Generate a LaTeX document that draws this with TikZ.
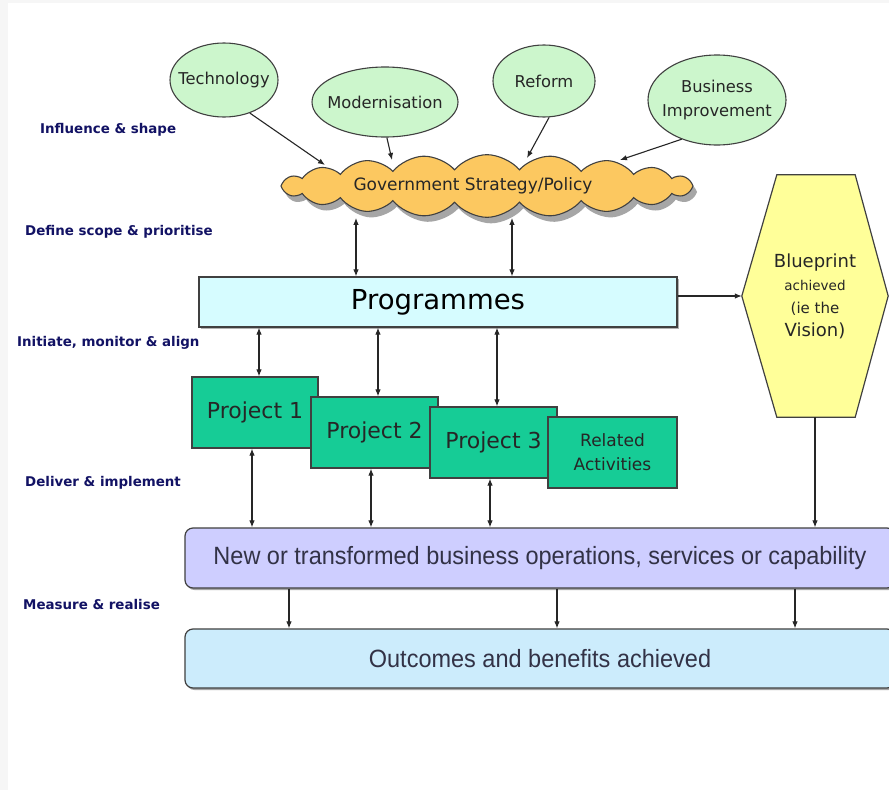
\documentclass[tikz,border=0pt]{standalone}
\usepackage{fontspec}
\setmainfont{DejaVu Sans}
\newfontfamily\arialfont[FakeStretch=0.94]{Liberation Sans}
\usetikzlibrary{shapes.geometric,shapes.symbols,arrows.meta,shadows,backgrounds,calc}

\definecolor{bubblegreen}{RGB}{204,246,204}
\definecolor{cloudorange}{RGB}{252,200,96}
\definecolor{progcyan}{RGB}{214,252,255}
\definecolor{visionyellow}{RGB}{255,255,153}
\definecolor{projteal}{RGB}{22,204,150}
\definecolor{opslilac}{RGB}{206,206,255}
\definecolor{outcomeblue}{RGB}{204,236,252}
\definecolor{stagenavy}{RGB}{18,18,100}
\definecolor{edgegray}{RGB}{64,64,64}
\definecolor{textdark}{RGB}{38,38,38}
\definecolor{opstext}{RGB}{50,50,70}

\begin{document}
\begin{tikzpicture}[x=1pt,y=-1pt,
  conn/.style={draw=black!85, line width=1.1pt, -{Latex[length=7pt,width=5.5pt]}},
  conn2/.style={draw=black!85, line width=1.1pt, {Latex[length=7pt,width=5.5pt]}-{Latex[length=7pt,width=5.5pt]}},
  stage/.style={anchor=west, inner sep=0pt, text=stagenavy,
    font=\bfseries\fontsize{13.4}{15}\selectfont},
  bubbletext/.style={inner sep=0pt, text=textdark, align=center,
    font=\fontsize{16.3}{24}\selectfont},
  bubble/.style={ellipse, draw=edgegray, line width=1.1pt, fill=bubblegreen,
    inner sep=0pt, label={[bubbletext]center:#1}},
  projbox/.style={draw=edgegray, line width=1.2pt, fill=projteal, inner sep=0pt,
    text=textdark, align=center},
  band/.style={draw=edgegray, line width=1.2pt, rounded corners=8pt,
    inner sep=0pt, text=opstext,
    font=\arialfont\fontsize{25}{28}\selectfont,
    drop shadow={shadow xshift=1.5pt, shadow yshift=-2pt, fill=gray!70, opacity=1}},
]
% page
\path[use as bounding box, clip] (0,0) rectangle (889,790);
\begin{scope}[on background layer]
  \fill[gray!7] (0,0) rectangle (889,790);
  \fill[white] (8,3) rectangle (889,790);
\end{scope}

% stage labels
\node[stage] (lbl1) at (40,130)  {Influence \& shape};
\node[stage] (lbl2) at (25,232)  {Define scope \& prioritise};
\node[stage] (lbl3) at (17,343)  {Initiate, monitor \& align};
\node[stage] (lbl4) at (25,483)  {Deliver \& implement};
\node[stage] (lbl5) at (23,604)  {Measure \& realise};

% drivers
\node[bubble={Technology}, minimum width=108pt, minimum height=74pt] (tech) at (224,80) {};
\node[bubble={Modernisation}, minimum width=146pt, minimum height=70pt] (modern) at (385,102) {};
\node[bubble={Reform}, minimum width=102pt, minimum height=72pt] (reform) at (544,81) {};
\node[bubble={Business\\Improvement}, minimum width=138pt, minimum height=90pt] (business) at (717,100) {};

% policy cloud
\node[cloud, cloud puffs=20, cloud puff arc=100, aspect=7.2,
  draw=edgegray, line width=1.1pt, fill=cloudorange,
  minimum width=412pt, minimum height=54pt, inner sep=0pt, text=textdark,
  font=\fontsize{17}{20}\selectfont,
  drop shadow={shadow xshift=4pt, shadow yshift=-6pt, fill=gray!70, opacity=1}]
  (cloud) at (487,186) {\hspace*{-28pt}Government Strategy/Policy};

% entry points on the upper rim of the cloud
\coordinate (rim1) at ($(cloud.center)+(-162,-21)$);
\coordinate (rim2) at ($(cloud.center)+(-95,-26)$);
\coordinate (rim3) at ($(cloud.center)+(40,-28)$);
\coordinate (rim4) at ($(cloud.center)+(133,-26)$);

\draw[conn] (tech.-52) -- (rim1);
\draw[conn] (modern.-87) -- (rim2);
\draw[conn] (reform.-82) -- (rim3);
\draw[conn] (business.-132) -- (rim4);

% programmes
\node[draw=edgegray, line width=1.2pt, fill=progcyan, minimum width=478pt,
  minimum height=50pt, inner sep=0pt, text=black,
  font=\fontsize{27.5}{30}\selectfont,
  drop shadow={shadow xshift=1.5pt, shadow yshift=-2pt, fill=gray!60, opacity=1}]
  (prog) at (438,302) {Programmes};

\coordinate (k1) at (356,0);
\coordinate (k2) at (512,0);
\draw[conn2] (cloud.south -| k1) -- (prog.north -| k1);
\draw[conn2] (cloud.south -| k2) -- (prog.north -| k2);

% vision
\node[minimum width=146pt, minimum height=242pt, inner sep=0pt, align=center,
  text=textdark, font=\fontsize{16}{23}\selectfont] (vision) at (815,296)
  {{\fontsize{18}{23}\selectfont Blueprint}\\
   {\fontsize{13.5}{23}\selectfont achieved}\\
   {\fontsize{15}{23}\selectfont (ie the}\\
   {\fontsize{18}{23}\selectfont Vision)}};
\begin{scope}[on background layer]
  \draw[draw=edgegray, line width=1.2pt, fill=visionyellow]
    (vision.west) -- ([xshift=35pt]vision.north west) -- ([xshift=-33pt]vision.north east)
    -- (vision.east) -- ([xshift=-33pt]vision.south east) -- ([xshift=35pt]vision.south west)
    -- cycle;
\end{scope}
\draw[conn] (vision.west -| prog.east) -- (vision.west);

% projects
\node[projbox, minimum width=126pt, minimum height=71pt, font=\fontsize{22}{24}\selectfont]
  (p1) at (255,412.5) {Project 1};
\node[projbox, minimum width=127pt, minimum height=71pt, font=\fontsize{22}{24}\selectfont]
  (p2) at (374.5,432.5) {Project 2};
\node[projbox, minimum width=127pt, minimum height=71pt, font=\fontsize{22}{24}\selectfont]
  (p3) at (493.5,442.5) {Project 3};
\node[projbox, minimum width=129pt, minimum height=71pt, font=\fontsize{17}{24}\selectfont]
  (rel) at (612.5,452.5) {Related\\Activities};

\coordinate (q1) at (259,0);
\coordinate (q2) at (378,0);
\coordinate (q3) at (497,0);
\draw[conn2] (prog.south -| q1) -- (p1.north -| q1);
\draw[conn2] (prog.south -| q2) -- (p2.north -| q2);
\draw[conn2] (prog.south -| q3) -- (p3.north -| q3);

% operations and outcomes
\node[band, fill=opslilac, minimum width=710pt, minimum height=60pt]
  (ops) at (540,558) {New or transformed business operations, services or capability};
\node[band, fill=outcomeblue, minimum width=710pt, minimum height=59pt]
  (outc) at (540,658.5) {Outcomes and benefits achieved};

\coordinate (r1) at (252,0);
\coordinate (r2) at (371,0);
\coordinate (r3) at (490,0);
\draw[conn2] (p1.south -| r1) -- (ops.north -| r1);
\draw[conn2] (p2.south -| r2) -- (ops.north -| r2);
\draw[conn2] (p3.south -| r3) -- (ops.north -| r3);
\draw[conn] (vision.south) -- (vision.south |- ops.north);

\coordinate (t1) at (289,0);
\coordinate (t2) at (557,0);
\coordinate (t3) at (795,0);
\draw[conn] (ops.south -| t1) -- (outc.north -| t1);
\draw[conn] (ops.south -| t2) -- (outc.north -| t2);
\draw[conn] (ops.south -| t3) -- (outc.north -| t3);
\end{tikzpicture}
\end{document}
